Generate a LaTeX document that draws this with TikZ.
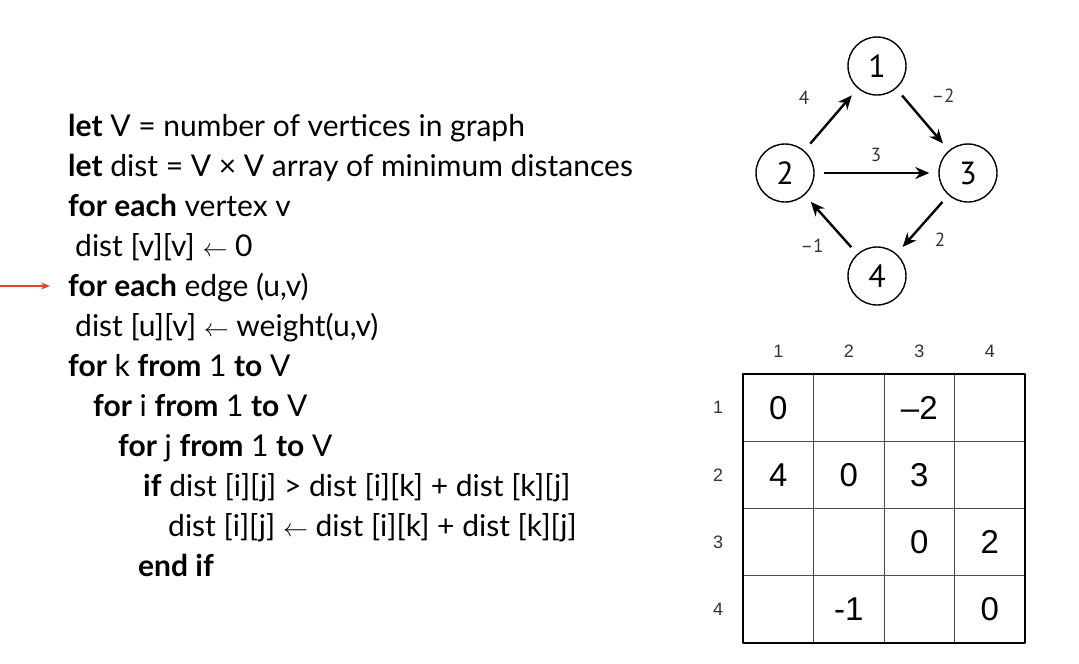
\documentclass[tikz,border=0pt]{standalone}
\usepackage{fontspec}
\setmainfont{Lato}
\newfontfamily\graphfont{PT Sans}
\newfontfamily\gridfont{Liberation Sans}
\usetikzlibrary{arrows.meta,positioning}
\definecolor{ptrred}{RGB}{232,65,44}
\tikzset{
	code/.style={anchor=base west,inner sep=0pt,font=\fontsize{30}{30}\selectfont},
	vertex/.style={draw,circle,line width=1.4pt,minimum size=58pt,inner sep=0pt,font=\graphfont\fontsize{32}{32}\selectfont},
	edge/.style={-{Stealth[length=14pt,width=12pt]},line width=2.4pt,shorten <=9pt,shorten >=9pt},
	wt/.style={font=\graphfont\fontsize{19}{19}\selectfont,text=black!80},
	lbl/.style={font=\gridfont\fontsize{18}{18}\selectfont,text=black!80},
	val/.style={font=\gridfont\fontsize{33}{33}\selectfont}
}
\begin{document}
\begin{tikzpicture}[x=1pt,y=-1pt,line join=round]
	\useasboundingbox (0,0) rectangle (1079,664);
	%pseudocode
	\foreach \x/\y/\t [count=\n] in {68/136/{\textbf{let} V = number of vertices in graph},
		68/176/{\textbf{let} dist = V × V array of minimum distances},
		68/216/{\textbf{for each} vertex v},
		75/256/{dist [v][v] $\leftarrow$ 0},
		68/296/{\textbf{for each} edge (u,v)},
		75/336/{dist [u][v] $\leftarrow$ weight(u,v)},
		68/376/{\textbf{for} k \textbf{from} 1 \textbf{to} V},
		93/416/{\textbf{for} i \textbf{from} 1 \textbf{to} V},
		118/456/{\textbf{for} j \textbf{from} 1 \textbf{to} V},
		143/496/{\textbf{if} dist [i][j] > dist [i][k] + dist [k][j]},
		168/536/{dist [i][j] $\leftarrow$ dist [i][k] + dist [k][j]},
		138/576/{\textbf{end if}}}
	\node[code] (l\n) at (\x,\y) {\t};
	\coordinate (p0) at (0,286);
	\coordinate (p1) at (50,286);
	\draw[ptrred,line width=1.5pt,-{Stealth[length=9pt,width=7pt]}] (p0)--(p1);
	%graph
	\node[vertex] (v1) at (877,66) {1};
	\node[vertex] (v2) at (785,173) {2};
	\node[vertex] (v3) at (968,173) {3};
	\node[vertex] (v4) at (877,276) {4};
	\foreach \a/\b in {2/1,1/3,2/3,3/4,4/2}
	\draw[edge] (v\a)--(v\b);
	\foreach \a/\x/\y/\w in {21/804/98/4,13/943/96/{\textendash2},23/876/155/3,34/940/240/2,42/812/246/{\textendash1}}
	\node[wt] (w\a) at (\x,\y) {\w};
	%matrix
	\foreach \i in {1,2,3}{
		\draw[black!70,line width=0.8pt] (743+70.5*\i,374)--(743+70.5*\i,643);
		\draw[black!70,line width=0.8pt] (743,374+67.25*\i)--(1025,374+67.25*\i);}
	\draw[line width=2pt] (743,374) rectangle (1025,643);
	\foreach \i in {1,...,4}{
		\node[lbl] (c\i) at (743+70.5*\i-35.25,351) {\i};
		\node[lbl] (r\i) at (718,374+67.25*\i-33.6) {\i};}
	\foreach \r/\c/\v in {1/1/0,1/3/{\textendash2},2/1/4,2/2/0,2/3/3,3/3/0,3/4/2,4/2/{-1},4/4/0}
	\node[val] (m\r\c) at (743+70.5*\c-35.25,374+67.25*\r-33.6) {\v};
\end{tikzpicture}
\end{document}
